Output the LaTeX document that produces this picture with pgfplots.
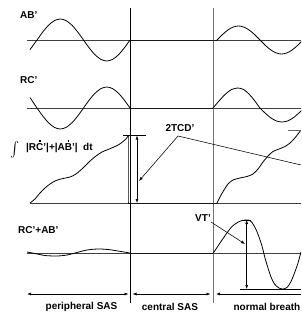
\documentclass[border=0pt]{standalone}
\usepackage{graphicx}
\usepackage{pgfplots}
\pgfplotsset{compat=1.18}
\usepackage{fontspec}
\setmainfont{Liberation Sans}
\usetikzlibrary{arrows.meta}
\newcommand{\dotC}[1]{\leavevmode\ooalign{#1\cr\hidewidth\raisebox{0.86em}{\rule{1.7pt}{1.7pt}}\hidewidth\cr}}
\begin{document}
\begin{tikzpicture}[font=\fontsize{10}{12}\selectfont\bfseries]
\begin{axis}[width=301pt,height=316pt,scale only axis,hide axis,
  xmin=0,xmax=301,ymin=0,ymax=316,y dir=reverse,clip=true,
  sig/.style={black,line width=0.8pt,smooth,tension=0.5,mark=none},
  base/.style={black!75,line width=0.6pt,mark=none},
  ann/.style={black,line width=0.55pt,mark=none},
  >={Latex[length=4pt,width=3pt]}]
% baselines
\addplot[base] coordinates {(27,40)(301,40)};
\addplot[base] coordinates {(27,108)(301,108)};
\addplot[base] coordinates {(30,203)(301,203)};
\addplot[base] coordinates {(27,253)(301,253)};
% dividers
\addplot[black,line width=0.7pt,mark=none] coordinates {(130.5,8)(130.5,303)};
\addplot[black!55,line width=0.8pt,mark=none] coordinates {(213,8)(213,303)};
% AB'
\addplot[sig] coordinates {(30,49.6)(37,40)(42.81,31.96)(48.63,25.15)(54.44,20.6)(60.25,19)(66.06,20.6)(71.88,25.15)(77.69,31.96)(83.5,40)(89.31,48.04)(95.13,54.85)(100.94,59.4)(106.75,61)(112.56,59.4)(118.38,54.85)(124.19,48.04)(130,40)};
\addplot[sig] coordinates {(130,40)(217,40)};
\addplot[sig] coordinates {(217,40)(222.38,34.64)(227.75,30.10)(233.13,27.07)(238.5,26)(243.88,27.07)(249.25,30.10)(254.63,34.64)(260,40)(265.38,45.36)(270.75,49.90)(276.13,52.93)(281.5,54)(286.88,52.93)(292.25,49.90)(297.63,45.36)(303,40)};
% RC'
\addplot[sig] coordinates {(30,97.5)(37,108)(42.81,116.04)(48.63,122.85)(54.44,127.4)(60.25,129)(66.06,127.4)(71.88,122.85)(77.69,116.04)(83.5,108)(89.31,99.96)(95.13,93.15)(100.94,88.6)(106.75,87)(112.56,88.6)(118.38,93.15)(124.19,99.96)(130,108)};
\addplot[sig] coordinates {(130,108)(213,108)};
\addplot[sig] coordinates {(213,108)(219,101)(225,94.5)(231.5,89.5)(238,88)(243.5,89.5)(249,94)(254.5,100.5)(260,108)(265.5,113.4)(271,118)(276.5,121)(282,122)(287.5,121)(293,118)(298.5,113.4)(304,108)};
% integral
\addplot[sig] coordinates {(30,203)(35,199)(40,193)(45,188)(50,184)(56,180.5)(63,178.5)(70,177)(76,174)(83,168)(90,161)(96,156)(102,152)(108,149.5)(114,147)(119,144.5)(123,141.5)(126,139)(128,136)};
\addplot[sig] coordinates {(128,136)(128,203)};
\addplot[sig] coordinates {(128,203)(217,203)};
\addplot[sig] coordinates {(217,203)(220,197)(224,190)(228,184)(233,180)(240,178)(247,176.5)(253,174)(258,169)(263,162)(268,156)(273,151.5)(279,149)(285,146.5)(290,143)(294,139)(298,134)(301,130)};
\addplot[ann] coordinates {(123,135)(146,135)};
\addplot[ann,<->] coordinates {(137,135.5)(137,203)};
\addplot[ann,<-] coordinates {(139,181)(178,136)(301,165)};
\addplot[ann,black!60] coordinates {(288,130.5)(301,130.5)};
% sum
\addplot[sig] coordinates {(27,252)(35,253.5)(45,255.5)(57,256)(67,255)(77,252.5)(87,250)(98,249)(108,249.5)(118,251)(130,253)};
\addplot[sig] coordinates {(130,253)(213,253)};
\addplot[sig] coordinates {(213,253.3)(216,249)(220,243)(226.7,233.3)(232,226.5)(236.7,223)(242,220.5)(248.3,220)(252,222.5)(256.7,231)(261.7,245)(265,258)(268,268)(271,277)(274.5,284)(279,288)(283.3,289)(287.5,287)(291,281.5)(294.5,273)(298,263)(301,252)};
\addplot[ann,<->] coordinates {(246.7,220)(246.7,289)};
\addplot[ann] coordinates {(242,220)(251,220)};
\addplot[ann] coordinates {(240,289.5)(301,289.5)};
\addplot[ann,->] coordinates {(211,222)(245,244)};
% bottom arrows
\addplot[ann,<->] coordinates {(27,294)(128.5,294)};
\addplot[ann,<->] coordinates {(132.5,294)(210.5,294)};
\addplot[ann,<-] coordinates {(216,294)(301,294)};
% labels
\node[anchor=west,inner sep=0pt] at (axis cs:20,15) {AB'};
\node[anchor=west,inner sep=0pt] at (axis cs:20,80) {RC'};
\node[anchor=west,inner sep=0pt] at (axis cs:18,230) {RC'+AB'};
\node[anchor=west,inner sep=0pt] at (axis cs:10,150) {\scalebox{1.35}[1.5]{$\int$}};
\node[anchor=west,inner sep=0pt] at (axis cs:26,148) {|R\dotC{C}'|+|A\dotC{B}'|\ \ dt};
\node[inner sep=0pt] at (axis cs:180,128) {2TCD'};
\node[anchor=east,inner sep=0pt] at (axis cs:211,218) {VT'};
\node[inner sep=0pt] at (axis cs:81.5,307) {peripheral SAS};
\node[inner sep=0pt] at (axis cs:170,307) {central SAS};
\node[anchor=east,inner sep=0pt] at (axis cs:300.5,307) {normal breath};
\end{axis}
\pgfresetboundingbox
\path[use as bounding box] (current axis.south west) rectangle (current axis.north east);
\end{tikzpicture}
\end{document}
